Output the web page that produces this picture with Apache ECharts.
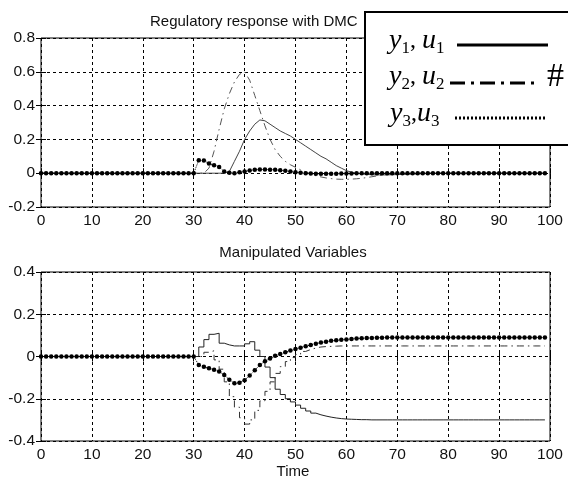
<!DOCTYPE html>
<html>
<head>
<meta charset="utf-8">
<script src="https://cdn.jsdelivr.net/npm/echarts@6/dist/echarts.min.js"></script>
<style>
html,body{margin:0;padding:0;background:#fff;}
#chart{width:568px;height:478px;}
</style>
</head>
<body>
<div id="chart"></div>
<script>
// ---- data (time steps 0..99) ----
var time = [0,1,2,3,4,5,6,7,8,9,10,11,12,13,14,15,16,17,18,19,20,21,22,23,24,25,26,27,28,29,
  30,31,32,33,34,35,36,37,38,39,40,41,42,43,44,45,46,47,48,49,50,51,52,53,54,55,56,57,58,59,
  60,61,62,63,64,65,66,67,68,69,70,71,72,73,74,75,76,77,78,79,80,81,82,83,84,85,86,87,88,89,
  90,91,92,93,94,95,96,97,98,99];

// Regulatory response (outputs)
var y1 = [0,0,0,0,0,0,0,0,0,0,
  0,0,0,0,0,0,0,0,0,0,
  0,0,0,0,0,0,0,0,0,0,
  0,0,0,0,0,0,0,0.01,0.07,0.13,
  0.2,0.25,0.29,0.315,0.31,0.29,0.27,0.25,0.235,0.22,
  0.2,0.18,0.16,0.14,0.12,0.1,0.085,0.065,0.045,0.03,
  0.015,0.006,0,-0.004,-0.007,-0.009,-0.01,-0.01,-0.01,-0.009,
  -0.008,-0.007,-0.006,-0.005,-0.004,-0.003,-0.002,-0.002,-0.001,-0.001,
  0,0,0,0,0,0,0,0,0,0,
  0,0,0,0,0,0,0,0,0,0];
var y2 = [0,0,0,0,0,0,0,0,0,0,
  0,0,0,0,0,0,0,0,0,0,
  0,0,0,0,0,0,0,0,0,0,
  0,0,0,0.03,0.13,0.26,0.38,0.47,0.54,0.585,
  0.6,0.55,0.46,0.37,0.28,0.2,0.14,0.1,0.07,0.05,
  0.035,0.02,0.008,-0.005,-0.015,-0.022,-0.028,-0.032,-0.035,-0.036,
  -0.036,-0.035,-0.033,-0.03,-0.026,-0.021,-0.016,-0.012,-0.008,-0.005,
  -0.003,-0.002,-0.001,0,0,0,0,0,0,0,
  0,0,0,0,0,0,0,0,0,0,
  0,0,0,0,0,0,0,0,0,0];
var y3 = [0,0,0,0,0,0,0,0,0,0,
  0,0,0,0,0,0,0,0,0,0,
  0,0,0,0,0,0,0,0,0,0,
  0,0.077,0.075,0.057,0.047,0.037,0.01,0.002,0,0.005,
  0.01,0.016,0.02,0.022,0.022,0.021,0.02,0.017,0.014,0.01,
  0.005,0.002,0,-0.002,-0.003,-0.003,-0.003,-0.003,-0.003,-0.002,
  -0.002,-0.002,-0.001,-0.001,-0.001,0,0,0,0,0,
  0,0,0,0,0,0,0,0,0,0,
  0,0,0,0,0,0,0,0,0,0,
  0,0,0,0,0,0,0,0,0,0];

// Manipulated variables
var u1 = [0,0,0,0,0,0,0,0,0,0,
  0,0,0,0,0,0,0,0,0,0,
  0,0,0,0,0,0,0,0,0,0,
  0,0.045,0.08,0.105,0.11,0.063,0.055,0.05,0.05,0.05,
  0.06,0.07,0.03,0,-0.05,-0.1,-0.155,-0.18,-0.2,-0.215,
  -0.23,-0.245,-0.258,-0.268,-0.276,-0.282,-0.287,-0.291,-0.294,-0.296,
  -0.297,-0.298,-0.299,-0.299,-0.3,-0.3,-0.3,-0.3,-0.3,-0.3,
  -0.3,-0.3,-0.3,-0.3,-0.3,-0.3,-0.3,-0.3,-0.3,-0.3,
  -0.3,-0.3,-0.3,-0.3,-0.3,-0.3,-0.3,-0.3,-0.3,-0.3,
  -0.3,-0.3,-0.3,-0.3,-0.3,-0.3,-0.3,-0.3,-0.3,-0.3];
var u2 = [0,0,0,0,0,0,0,0,0,0,
  0,0,0,0,0,0,0,0,0,0,
  0,0,0,0,0,0,0,0,0,0,
  0,0,0.02,0.027,-0.016,-0.06,-0.12,-0.19,-0.24,-0.29,
  -0.32,-0.3,-0.255,-0.21,-0.165,-0.12,-0.08,-0.048,-0.024,-0.005,
  0.01,0.024,0.033,0.04,0.045,0.047,0.048,0.049,0.05,0.05,
  0.05,0.05,0.05,0.05,0.05,0.05,0.05,0.05,0.05,0.05,
  0.05,0.05,0.05,0.05,0.05,0.05,0.05,0.05,0.05,0.05,
  0.05,0.05,0.05,0.05,0.05,0.05,0.05,0.05,0.05,0.05,
  0.05,0.05,0.05,0.05,0.05,0.05,0.05,0.05,0.05,0.05];
var u3 = [0,0,0,0,0,0,0,0,0,0,
  0,0,0,0,0,0,0,0,0,0,
  0,0,0,0,0,0,0,0,0,0,
  0,-0.04,-0.048,-0.056,-0.063,-0.071,-0.087,-0.11,-0.127,-0.124,
  -0.112,-0.09,-0.065,-0.04,-0.022,-0.01,0.003,0.012,0.02,0.028,
  0.035,0.042,0.048,0.055,0.06,0.066,0.07,0.074,0.077,0.079,
  0.081,0.083,0.085,0.086,0.087,0.088,0.089,0.089,0.09,0.09,
  0.09,0.09,0.09,0.09,0.09,0.09,0.09,0.09,0.09,0.09,
  0.09,0.09,0.09,0.09,0.09,0.09,0.09,0.09,0.09,0.09,
  0.09,0.09,0.09,0.09,0.09,0.09,0.09,0.09,0.09,0.09];

var xTicks = {min: 0, max: 100, interval: 10};
var topY = {min: -0.2, max: 0.8, interval: 0.2};
var botY = {min: -0.4, max: 0.4, interval: 0.2};

var titleTop = 'Regulatory response with DMC';
var titleBottom = 'Manipulated Variables';
var xName = 'Time';

function pairs(v){ return time.map(function(t,i){ return [t, v[i]]; }); }

var FONT = '"Liberation Sans", Arial, Helvetica, sans-serif';
var SERIF = '"Liberation Serif", "Times New Roman", serif';
var gridDash = [3, 3];

function mainX(gi){
  return {type:'value', gridIndex:gi, min:xTicks.min, max:xTicks.max, interval:xTicks.interval,
    axisLine:{show:false}, axisTick:{show:true, inside:true, length:5, lineStyle:{color:'#000'}},
    axisLabel:{color:'#111', fontSize:15.5, fontFamily:FONT, margin:6},
    splitLine:{show:true, lineStyle:{color:'#000', width:1, type:gridDash}}};
}
function sideX(gi){
  return {type:'value', gridIndex:gi, position:'top', min:xTicks.min, max:xTicks.max, interval:xTicks.interval,
    axisLine:{show:false}, axisTick:{show:true, inside:true, length:5, lineStyle:{color:'#000'}},
    axisLabel:{show:false}, splitLine:{show:false}};
}
function mainY(gi, r){
  return {type:'value', gridIndex:gi, min:r.min, max:r.max, interval:r.interval,
    axisLine:{show:false}, axisTick:{show:true, inside:true, length:5, lineStyle:{color:'#000'}},
    axisLabel:{color:'#111', fontSize:15.5, fontFamily:FONT, margin:6},
    splitLine:{show:true, lineStyle:{color:'#000', width:1, type:gridDash}}};
}
function sideY(gi, r){
  return {type:'value', gridIndex:gi, position:'right', min:r.min, max:r.max, interval:r.interval,
    axisLine:{show:false}, axisTick:{show:true, inside:true, length:5, lineStyle:{color:'#000'}},
    axisLabel:{show:false}, splitLine:{show:false}};
}

var legendRich = {
  m:{fontSize:28, fontStyle:'italic', fontFamily:SERIF, lineHeight:32, verticalAlign:'middle', fill:'#000'},
  s:{fontSize:17, fontFamily:SERIF, lineHeight:10, verticalAlign:'bottom', fill:'#000'},
  c:{fontSize:24, fontFamily:SERIF, lineHeight:32, verticalAlign:'middle', fill:'#000'}
};

var chart = echarts.init(document.getElementById('chart'), null, {renderer:'canvas'});
var option = {
  animation: false,
  backgroundColor: '#fff',
  grid: [
    {left:41, top:38, width:509, height:169, show:true, borderColor:'#000', borderWidth:1, backgroundColor:'transparent'},
    {left:41, top:272, width:509, height:169, show:true, borderColor:'#000', borderWidth:1, backgroundColor:'transparent'}
  ],
  xAxis: [mainX(0), sideX(0), mainX(1), sideX(1)],
  yAxis: [mainY(0, topY), sideY(0, topY), mainY(1, botY), sideY(1, botY)],
  series: [
    {name:'y1', type:'line', xAxisIndex:0, yAxisIndex:0, data:pairs(y1), symbol:'none',
      lineStyle:{color:'#444', width:1}},
    {name:'y2', type:'line', xAxisIndex:0, yAxisIndex:0, data:pairs(y2), symbol:'none',
      lineStyle:{color:'#555', width:1, type:[7,4,1.5,4]}},
    {name:'y3', type:'line', xAxisIndex:0, yAxisIndex:0, data:pairs(y3), symbol:'circle', symbolSize:4.5,
      itemStyle:{color:'#000', borderWidth:0}, lineStyle:{color:'#000', width:1, type:'dotted'}},
    {name:'u1', type:'line', xAxisIndex:2, yAxisIndex:2, data:pairs(u1), symbol:'none', step:'end',
      lineStyle:{color:'#222', width:1}},
    {name:'u2', type:'line', xAxisIndex:2, yAxisIndex:2, data:pairs(u2), symbol:'none', step:'end',
      lineStyle:{color:'#333', width:1, type:[7,4,1.5,4]}},
    {name:'u3', type:'line', xAxisIndex:2, yAxisIndex:2, data:pairs(u3), symbol:'circle', symbolSize:4.5,
      itemStyle:{color:'#000', borderWidth:0}, lineStyle:{color:'#000', width:1, type:'dotted'}}
  ],
  graphic: [
    {type:'text', x:150, y:22, z:50, style:{text:titleTop, fontSize:15, fontFamily:FONT, fill:'#111', align:'left', verticalAlign:'middle'}},
    {type:'text', x:293, y:253, z:50, style:{text:titleBottom, fontSize:15, fontFamily:FONT, fill:'#111', align:'center', verticalAlign:'middle'}},
    {type:'text', x:293, y:472, z:50, style:{text:xName, fontSize:15, fontFamily:FONT, fill:'#111', align:'center', verticalAlign:'middle'}},
    // legend box
    {type:'rect', z:100, shape:{x:365, y:12, width:220, height:133}, style:{fill:'#fff', stroke:'#000', lineWidth:2}},
    {type:'text', z:101, x:389, y:41, style:{text:'{m|y}{s|1}{c|, }{m|u}{s|1}', align:'left', verticalAlign:'middle', rich:legendRich}},
    {type:'text', z:101, x:389, y:77, style:{text:'{m|y}{s|2}{c|, }{m|u}{s|2}', align:'left', verticalAlign:'middle', rich:legendRich}},
    {type:'text', z:101, x:390, y:114, style:{text:'{m|y}{s|3}{c|,}{m|u}{s|3}', align:'left', verticalAlign:'middle', rich:legendRich}},
    {type:'line', z:101, shape:{x1:457, y1:45, x2:548, y2:45}, style:{stroke:'#000', lineWidth:3}},
    {type:'line', z:101, shape:{x1:450, y1:83, x2:538, y2:83}, style:{stroke:'#000', lineWidth:3, lineDash:[15,6,3,6]}},
    {type:'line', z:101, shape:{x1:455, y1:118, x2:547, y2:118}, style:{stroke:'#000', lineWidth:3, lineDash:[2,2]}},
    {type:'text', z:101, x:547, y:77, style:{text:'#', fontSize:34, fontFamily:SERIF, fill:'#000', align:'left', verticalAlign:'middle'}}
  ]
};
chart.setOption(option);
</script>
</body>
</html>
